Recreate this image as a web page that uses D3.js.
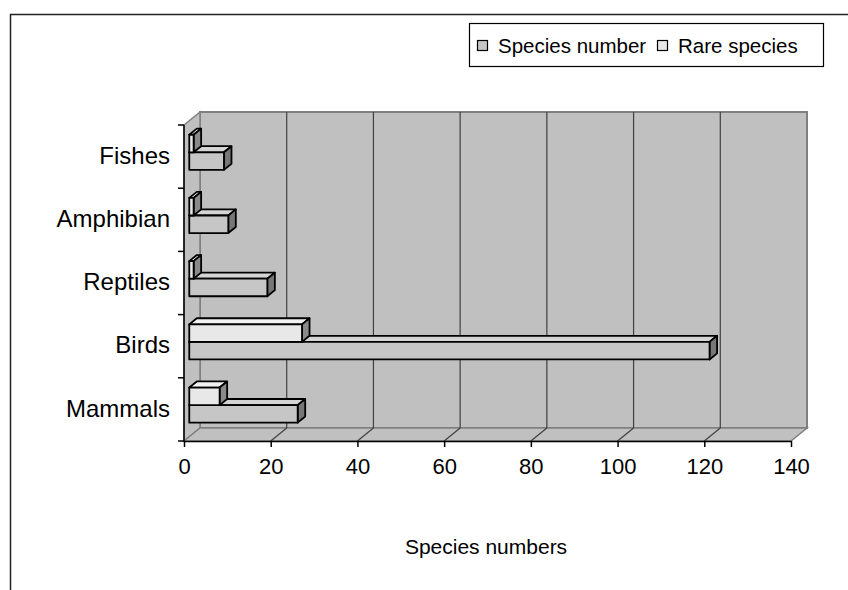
<!DOCTYPE html>
<html>
<head>
<meta charset="utf-8">
<script src="https://cdn.jsdelivr.net/npm/d3@7/dist/d3.min.js"></script>
<style>
  html, body { margin: 0; padding: 0; background: #fff; }
  svg { display: block; font-family: "Liberation Sans", Arial, sans-serif; }
</style>
</head>
<body>
<svg id="chart" width="848" height="590"></svg>
<script>
// Categories, bottom to top
const categories = ["Mammals", "Birds", "Reptiles", "Amphibian", "Fishes"];
const seriesNames = ["Species number", "Rare species"];
const speciesNumber = [25, 120, 18, 9, 8];
const rareSpecies = [7, 26, 1, 1, 1];
const valueTicks = [0, 20, 40, 60, 80, 100, 120, 140];
const axisTitle = "Species numbers";

const seriesFill = {
  "Species number": { front: "#c6c6c6", top: "#d4d4d4", side: "#777777" },
  "Rare species":   { front: "#e8e8e8", top: "#f2f2f2", side: "#8a8a8a" }
};

const svg = d3.select("#chart");

// Plot frame (front plane) and 3D depth vector to the back wall
const plot = { left: 184, right: 791, top: 125, bottom: 441 };
const depth = { dx: 16, dy: -13 };
const barFront = 0.33, barBack = 0.8;

const x = d3.scaleLinear().domain([0, 140]).range([plot.left, plot.right]);
const y = d3.scaleBand().domain(categories).range([plot.bottom, plot.top]);
const inner = d3.scaleBand().domain(["Rare species", "Species number"])
  .range([0, y.bandwidth()]).paddingInner(0).paddingOuter(0.8);

// Outer chart border
svg.append("path")
  .attr("d", `M10.5,590 L10.5,14.5 L848,14.5`)
  .attr("fill", "none").attr("stroke", "#222").attr("stroke-width", 1.5);

// Back wall
const bx0 = x(0) + depth.dx, bx1 = x(140) + depth.dx;
const by0 = plot.top + depth.dy, by1 = plot.bottom + depth.dy;
svg.append("rect")
  .attr("x", bx0).attr("y", by0).attr("width", bx1 - bx0).attr("height", by1 - by0)
  .attr("fill", "#c0c0c0").attr("stroke", "#808080").attr("stroke-width", 2);

// Left side wall
svg.append("polygon")
  .attr("points", [[plot.left, plot.top], [bx0, by0], [bx0, by1], [plot.left, plot.bottom]].join(" "))
  .attr("fill", "#c0c0c0").attr("stroke", "#808080").attr("stroke-width", 1.5);

// Floor
svg.append("polygon")
  .attr("points", [[plot.left, plot.bottom], [bx0, by1], [bx1, by1], [x(140), plot.bottom]].join(" "))
  .attr("fill", "#c0c0c0").attr("stroke", "#808080").attr("stroke-width", 1.5);

// Gridlines on the back wall and across the floor
const grid = svg.append("g").attr("stroke", "#404040").attr("stroke-width", 1.2);
valueTicks.filter(v => v > 0 && v < 140).forEach(v => {
  grid.append("line")
    .attr("x1", x(v) + depth.dx).attr("x2", x(v) + depth.dx)
    .attr("y1", by0).attr("y2", by1);
  grid.append("line")
    .attr("x1", x(v)).attr("y1", plot.bottom)
    .attr("x2", x(v) + depth.dx).attr("y2", by1);
});

// 3D bars
const fx = depth.dx * barFront, fy = depth.dy * barFront;
const kx = depth.dx * (barBack - barFront), ky = depth.dy * (barBack - barFront);

const bars = [];
categories.forEach((c, i) => {
  bars.push({ cat: c, series: "Species number", value: speciesNumber[i] });
  bars.push({ cat: c, series: "Rare species", value: rareSpecies[i] });
});

const barG = svg.append("g")
  .attr("stroke", "#000").attr("stroke-width", 1.8).attr("stroke-linejoin", "round");

bars.forEach(b => {
  const x0 = x(0) + fx, x1 = x(b.value) + fx;
  const yTop = y(b.cat) + inner(b.series) + fy;
  const yBot = yTop + inner.bandwidth();
  const col = seriesFill[b.series];
  const g = barG.append("g");
  g.append("polygon")
    .attr("points", [[x0, yTop], [x1, yTop], [x1 + kx, yTop + ky], [x0 + kx, yTop + ky]].join(" "))
    .attr("fill", col.top);
  g.append("polygon")
    .attr("points", [[x1, yTop], [x1 + kx, yTop + ky], [x1 + kx, yBot + ky], [x1, yBot]].join(" "))
    .attr("fill", col.side);
  g.append("rect")
    .attr("x", x0).attr("y", yTop).attr("width", x1 - x0).attr("height", yBot - yTop)
    .attr("fill", col.front);
});

// Value axis
const xAxis = svg.append("g")
  .attr("transform", `translate(0,${plot.bottom})`)
  .call(d3.axisBottom(x).tickValues(valueTicks).tickSize(6).tickSizeOuter(0).tickPadding(11));
xAxis.select(".domain").attr("stroke", "#000").attr("stroke-width", 1.5);
xAxis.selectAll(".tick line").attr("stroke", "#000").attr("stroke-width", 1.5);
xAxis.selectAll(".tick text")
  .attr("font-family", "Liberation Sans, Arial, sans-serif")
  .attr("font-size", 22).attr("fill", "#000");

// Category axis: line, ticks at band edges, labels at band centres
const catAxis = svg.append("g");
catAxis.append("line")
  .attr("x1", plot.left).attr("x2", plot.left)
  .attr("y1", plot.top).attr("y2", plot.bottom)
  .attr("stroke", "#000").attr("stroke-width", 1.5);
const edges = categories.map(c => y(c)).concat([plot.bottom]);
catAxis.selectAll("line.tick").data(edges).join("line")
  .attr("class", "tick")
  .attr("x1", plot.left - 6).attr("x2", plot.left)
  .attr("y1", d => d).attr("y2", d => d)
  .attr("stroke", "#000").attr("stroke-width", 1.5);
catAxis.selectAll("text").data(categories).join("text")
  .attr("x", 170).attr("y", d => y(d) + y.bandwidth() / 2)
  .attr("dy", "0.3em")
  .attr("text-anchor", "end")
  .attr("font-size", 24).attr("fill", "#000")
  .text(d => d);

// Axis title
svg.append("text")
  .attr("x", 486).attr("y", 554)
  .attr("text-anchor", "middle")
  .attr("font-size", 21).attr("fill", "#000")
  .text(axisTitle);

// Legend
const legend = svg.append("g");
legend.append("rect")
  .attr("x", 469.5).attr("y", 23.5).attr("width", 354).attr("height", 43)
  .attr("fill", "#fff").attr("stroke", "#000").attr("stroke-width", 1.2);
const legendX = [477, 657];
seriesNames.forEach((s, i) => {
  legend.append("rect")
    .attr("x", legendX[i] + 0.5).attr("y", 40.5).attr("width", 10).attr("height", 10)
    .attr("fill", seriesFill[s].front).attr("stroke", "#000").attr("stroke-width", 1.2);
  legend.append("text")
    .attr("x", legendX[i] + 21).attr("y", 53)
    .attr("font-size", 20.5).attr("fill", "#000")
    .text(s);
});
</script>
</body>
</html>
